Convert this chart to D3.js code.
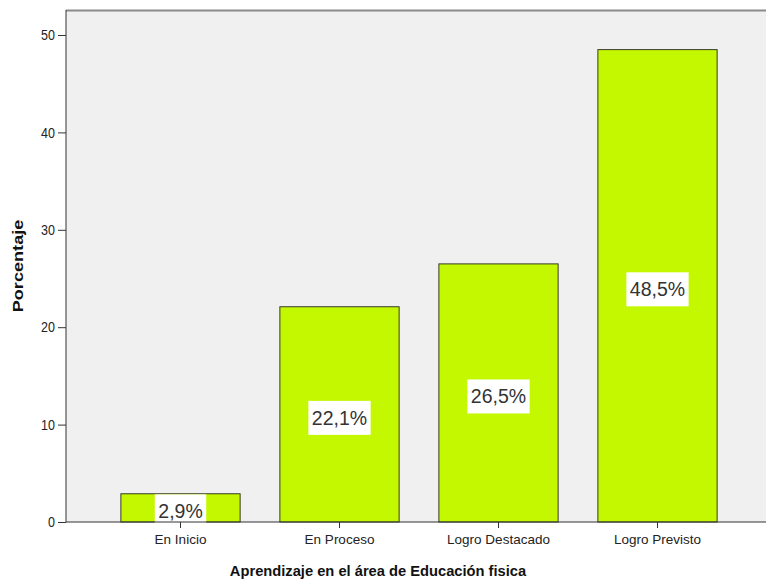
<!DOCTYPE html>
<html><head><meta charset="utf-8">
<script src="https://cdn.jsdelivr.net/npm/d3@7"></script>
<style>body{margin:0;background:#fff}svg{display:block}</style>
</head><body>
<script>
const categories = ["En Inicio", "En Proceso", "Logro Destacado", "Logro Previsto"];
const values = [2.9, 22.1, 26.5, 48.5];
const labels = ["2,9%", "22,1%", "26,5%", "48,5%"];
const yTicks = [0, 10, 20, 30, 40, 50];

const W = 766, H = 583;
const FONT = "Arial, 'Liberation Sans', sans-serif";
const plot = {left: 66, top: 10, right: 766, bottom: 522};
const svg = d3.select("body").append("svg").attr("width", W).attr("height", H);

const x = d3.scaleBand().domain(categories).range([101, 737]).paddingInner(0.25).paddingOuter(0.125);
const y = d3.scaleLinear().domain([0, 50]).range([plot.bottom, 35]);

svg.append("rect").attr("x", plot.left).attr("y", plot.top)
  .attr("width", plot.right - plot.left).attr("height", plot.bottom - plot.top).attr("fill", "#f0f0f0");
svg.append("line").attr("x1", plot.left).attr("x2", plot.right).attr("y1", plot.top + 0.5).attr("y2", plot.top + 0.5)
  .attr("stroke", "#8a8a8a").attr("stroke-width", 2);

svg.selectAll("rect.bar").data(values).join("rect").attr("class", "bar")
  .attr("x", (d, i) => x(categories[i])).attr("width", x.bandwidth())
  .attr("y", d => y(d)).attr("height", d => y(0) - y(d))
  .attr("fill", "#c3f800").attr("stroke", "#3a3a2a").attr("stroke-width", 1);

const lab = svg.selectAll("g.lab").data(values).join("g").attr("class", "lab")
  .attr("transform", (d, i) => `translate(${x(categories[i]) + x.bandwidth() / 2},${(y(d) + y(0)) / 2 + 3.5})`);
lab.each(function(d, i) {
  const g = d3.select(this);
  const t = g.append("text").text(labels[i]).attr("text-anchor", "middle").attr("dy", "0.36em")
    .attr("font-family", FONT).attr("font-size", 19.5).attr("fill", "#333");
  const bb = t.node().getBBox();
  g.insert("rect", "text").attr("x", bb.x - 3.5).attr("y", -17).attr("width", bb.width + 7).attr("height", 34).attr("fill", "#fff");
});

const yAxis = svg.append("g").attr("transform", `translate(${plot.left},0)`)
  .call(d3.axisLeft(y).tickValues(yTicks).tickSize(8).tickPadding(3).tickFormat(d3.format("d")));
yAxis.select(".domain").attr("d", `M0,${plot.top}V${plot.bottom}`).attr("stroke", "#333");
yAxis.selectAll(".tick line").attr("stroke", "#333");
yAxis.selectAll("text").attr("font-family", FONT).attr("font-size", 12.5).attr("fill", "#222")
  .attr("transform", "scale(1,1.15)").attr("y", 0).attr("dy", "0.32em");
yAxis.selectAll(".tick").each(function() {
  const tr = d3.select(this).attr("transform");
  const ty = +tr.match(/translate\([^,]+,([^)]+)\)/)[1];
  d3.select(this).select("text").attr("transform", `translate(0,${-ty * 0}) scale(1,1.15)`);
});

const xAxis = svg.append("g").attr("transform", `translate(0,${plot.bottom})`)
  .call(d3.axisBottom(x).tickSize(6).tickPadding(6));
xAxis.select(".domain").attr("d", `M${plot.left},0H${plot.right}`).attr("stroke", "#333");
xAxis.selectAll(".tick line").attr("stroke", "#333");
xAxis.selectAll("text").attr("font-family", FONT).attr("font-size", 13.5).attr("fill", "#222");

svg.append("text").attr("x", 378).attr("y", 576).attr("text-anchor", "middle")
  .attr("font-family", FONT).attr("font-weight", "bold").attr("font-size", 14.7).attr("fill", "#111")
  .text("Aprendizaje en el área de Educación fisica");
svg.append("text").attr("transform", "translate(23,266) rotate(-90) scale(1.25,1)").attr("text-anchor", "middle")
  .attr("font-family", FONT).attr("font-weight", "bold").attr("font-size", 14.5).attr("fill", "#111")
  .text("Porcentaje");
</script>
</body></html>
